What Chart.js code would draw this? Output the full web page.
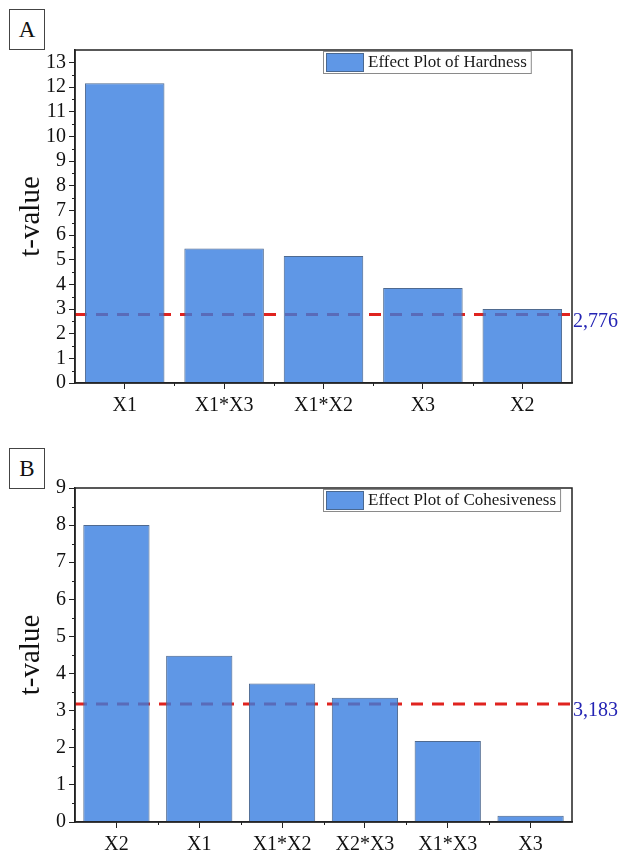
<!DOCTYPE html>
<html lang="en">
<head>
  <meta charset="UTF-8" />
  <title>Effect plots - t-values</title>
  <script src="https://cdn.jsdelivr.net/npm/chart.js"></script>
  <style>
    body { margin: 0; background: #fff; width: 623px; height: 853px; position: relative; overflow: hidden; }
    canvas { position: absolute; left: 0; }
    .tag { position: absolute; left: 9px; width: 34px; height: 39px; border: 1px solid #444;
           font: 23px "Liberation Serif", serif; color: #111; text-align: center; line-height: 39px; background: #fff; }
  </style>
</head>
<body>

<div class="tag" style="top: 9px;">A</div>
<div class="tag" style="top: 448px;">B</div>

<canvas id="hardnessChart" width="623" height="425" style="top: 0;"></canvas>
<canvas id="cohesivenessChart" width="623" height="428" style="top: 425px;"></canvas>

<script>
// Panel A - hardness
const hardnessTerms = ['X1', 'X1*X3', 'X1*X2', 'X3', 'X2'];
const hardnessT = [12.15, 5.45, 5.15, 3.85, 3.0];
const hardnessLimit = 2.776;
const hardnessLimitLabel = '2,776';
const hardnessYMax = 13.5;

// Panel B - cohesiveness
const cohesivenessTerms = ['X2', 'X1', 'X1*X2', 'X2*X3', 'X1*X3', 'X3'];
const cohesivenessT = [8.0, 4.48, 3.73, 3.35, 2.18, 0.17];
const cohesivenessLimit = 3.183;
const cohesivenessLimitLabel = '3,183';
const cohesivenessYMax = 9;

const serif = '"Liberation Serif", "Times New Roman", serif';

// frame, minor ticks, limit line and the small legend box
const effectPlugin = {
  id: 'effectPlot',
  beforeDatasetsDraw(chart, args, opts) {
    const { ctx, chartArea: a, scales } = chart;
    const py = scales.y.getPixelForValue(opts.limit);
    ctx.save();
    ctx.strokeStyle = '#e0231f';
    ctx.lineWidth = 3;
    ctx.setLineDash([12, 9]);
    ctx.beginPath();
    ctx.moveTo(a.left, py);
    ctx.lineTo(a.right, py);
    ctx.stroke();
    ctx.restore();
  },
  afterDraw(chart, args, opts) {
    const { ctx, chartArea: a, scales } = chart;
    ctx.save();

    // box round the plot
    ctx.strokeStyle = '#222';
    ctx.lineWidth = 1.5;
    ctx.strokeRect(a.left, a.top, a.right - a.left, a.bottom - a.top);

    // minor ticks on y (half steps) and x (category edges)
    ctx.lineWidth = 1;
    ctx.beginPath();
    for (let v = 0.5; v < scales.y.max; v += 1) {
      const y = Math.round(scales.y.getPixelForValue(v)) + 0.5;
      ctx.moveTo(a.left - 3, y);
      ctx.lineTo(a.left, y);
    }
    const n = chart.data.labels.length;
    const step = (a.right - a.left) / n;
    for (let i = 1; i < n; i++) {
      const x = Math.round(scales.x.getPixelForValue(i) - step / 2) + 0.5;
      ctx.moveTo(x, a.bottom);
      ctx.lineTo(x, a.bottom + 3);
    }
    ctx.stroke();

    // limit value at the right
    const py = scales.y.getPixelForValue(opts.limit);
    ctx.fillStyle = '#2424b4';
    ctx.font = '20px ' + serif;
    ctx.textBaseline = 'middle';
    ctx.fillText(opts.limitLabel, a.right + 1, py + 7);

    // legend
    ctx.font = '17px ' + serif;
    const tw = ctx.measureText(opts.legend).width;
    const lx = 323, ly = a.top + 1, lh = 22;
    const lw = 45 + tw + 4;
    ctx.fillStyle = '#fff';
    ctx.fillRect(lx, ly, lw, lh);
    ctx.strokeStyle = '#8a8a8a';
    ctx.strokeRect(lx + 0.5, ly + 0.5, lw, lh);
    ctx.fillStyle = '#5f97e6';
    ctx.fillRect(lx + 3, ly + 2, 38, lh - 3);
    ctx.strokeStyle = '#4a6890';
    ctx.strokeRect(lx + 3.5, ly + 2.5, 37, lh - 4);
    ctx.fillStyle = '#1a1a1a';
    ctx.textBaseline = 'middle';
    ctx.fillText(opts.legend, lx + 45, ly + lh / 2 + 1);

    ctx.restore();
  }
};

function effectChart(id, terms, values, legend, limit, limitLabel, yMax, padTop, xHeight) {
  const ctx = document.getElementById(id).getContext('2d');
  return new Chart(ctx, {
    type: 'bar',
    data: {
      labels: terms,
      datasets: [{
        label: legend,
        data: values,
        backgroundColor: 'rgba(55, 125, 224, 0.8)',
        borderColor: '#4f6a90',
        borderWidth: 1,
        barPercentage: 0.8,
        categoryPercentage: 1
      }]
    },
    options: {
      responsive: false,
      devicePixelRatio: 1,
      animation: false,
      layout: { padding: { left: 0, top: padTop, right: 51, bottom: 0 } },
      plugins: {
        legend: { display: false },
        tooltip: { enabled: false },
        effectPlot: { limit: limit, limitLabel: limitLabel, legend: legend }
      },
      scales: {
        x: {
          afterFit: s => { s.height = xHeight; },
          grid: { offset: false, drawOnChartArea: false, tickLength: 6, color: '#222' },
          border: { color: '#222', width: 1.5 },
          ticks: { font: { family: serif, size: 20 }, color: '#111', padding: 5, maxRotation: 0, autoSkip: false }
        },
        y: {
          min: 0,
          max: yMax,
          afterFit: s => { s.width = 75; },
          grid: { drawOnChartArea: false, tickLength: 6, color: '#222' },
          border: { color: '#222', width: 1.5 },
          ticks: { stepSize: 1, includeBounds: false, autoSkip: false, font: { family: serif, size: 20 }, color: '#111', padding: 3 },
          title: { display: true, text: 't-value', font: { family: serif, size: 29 }, color: '#111', padding: { top: 14, bottom: 0 } }
        }
      }
    },
    plugins: [effectPlugin]
  });
}

effectChart('hardnessChart', hardnessTerms, hardnessT, 'Effect Plot of Hardness',
  hardnessLimit, hardnessLimitLabel, hardnessYMax, 50, 42);
effectChart('cohesivenessChart', cohesivenessTerms, cohesivenessT, 'Effect Plot of Cohesiveness',
  cohesivenessLimit, cohesivenessLimitLabel, cohesivenessYMax, 63, 31);
</script>

</body>
</html>
